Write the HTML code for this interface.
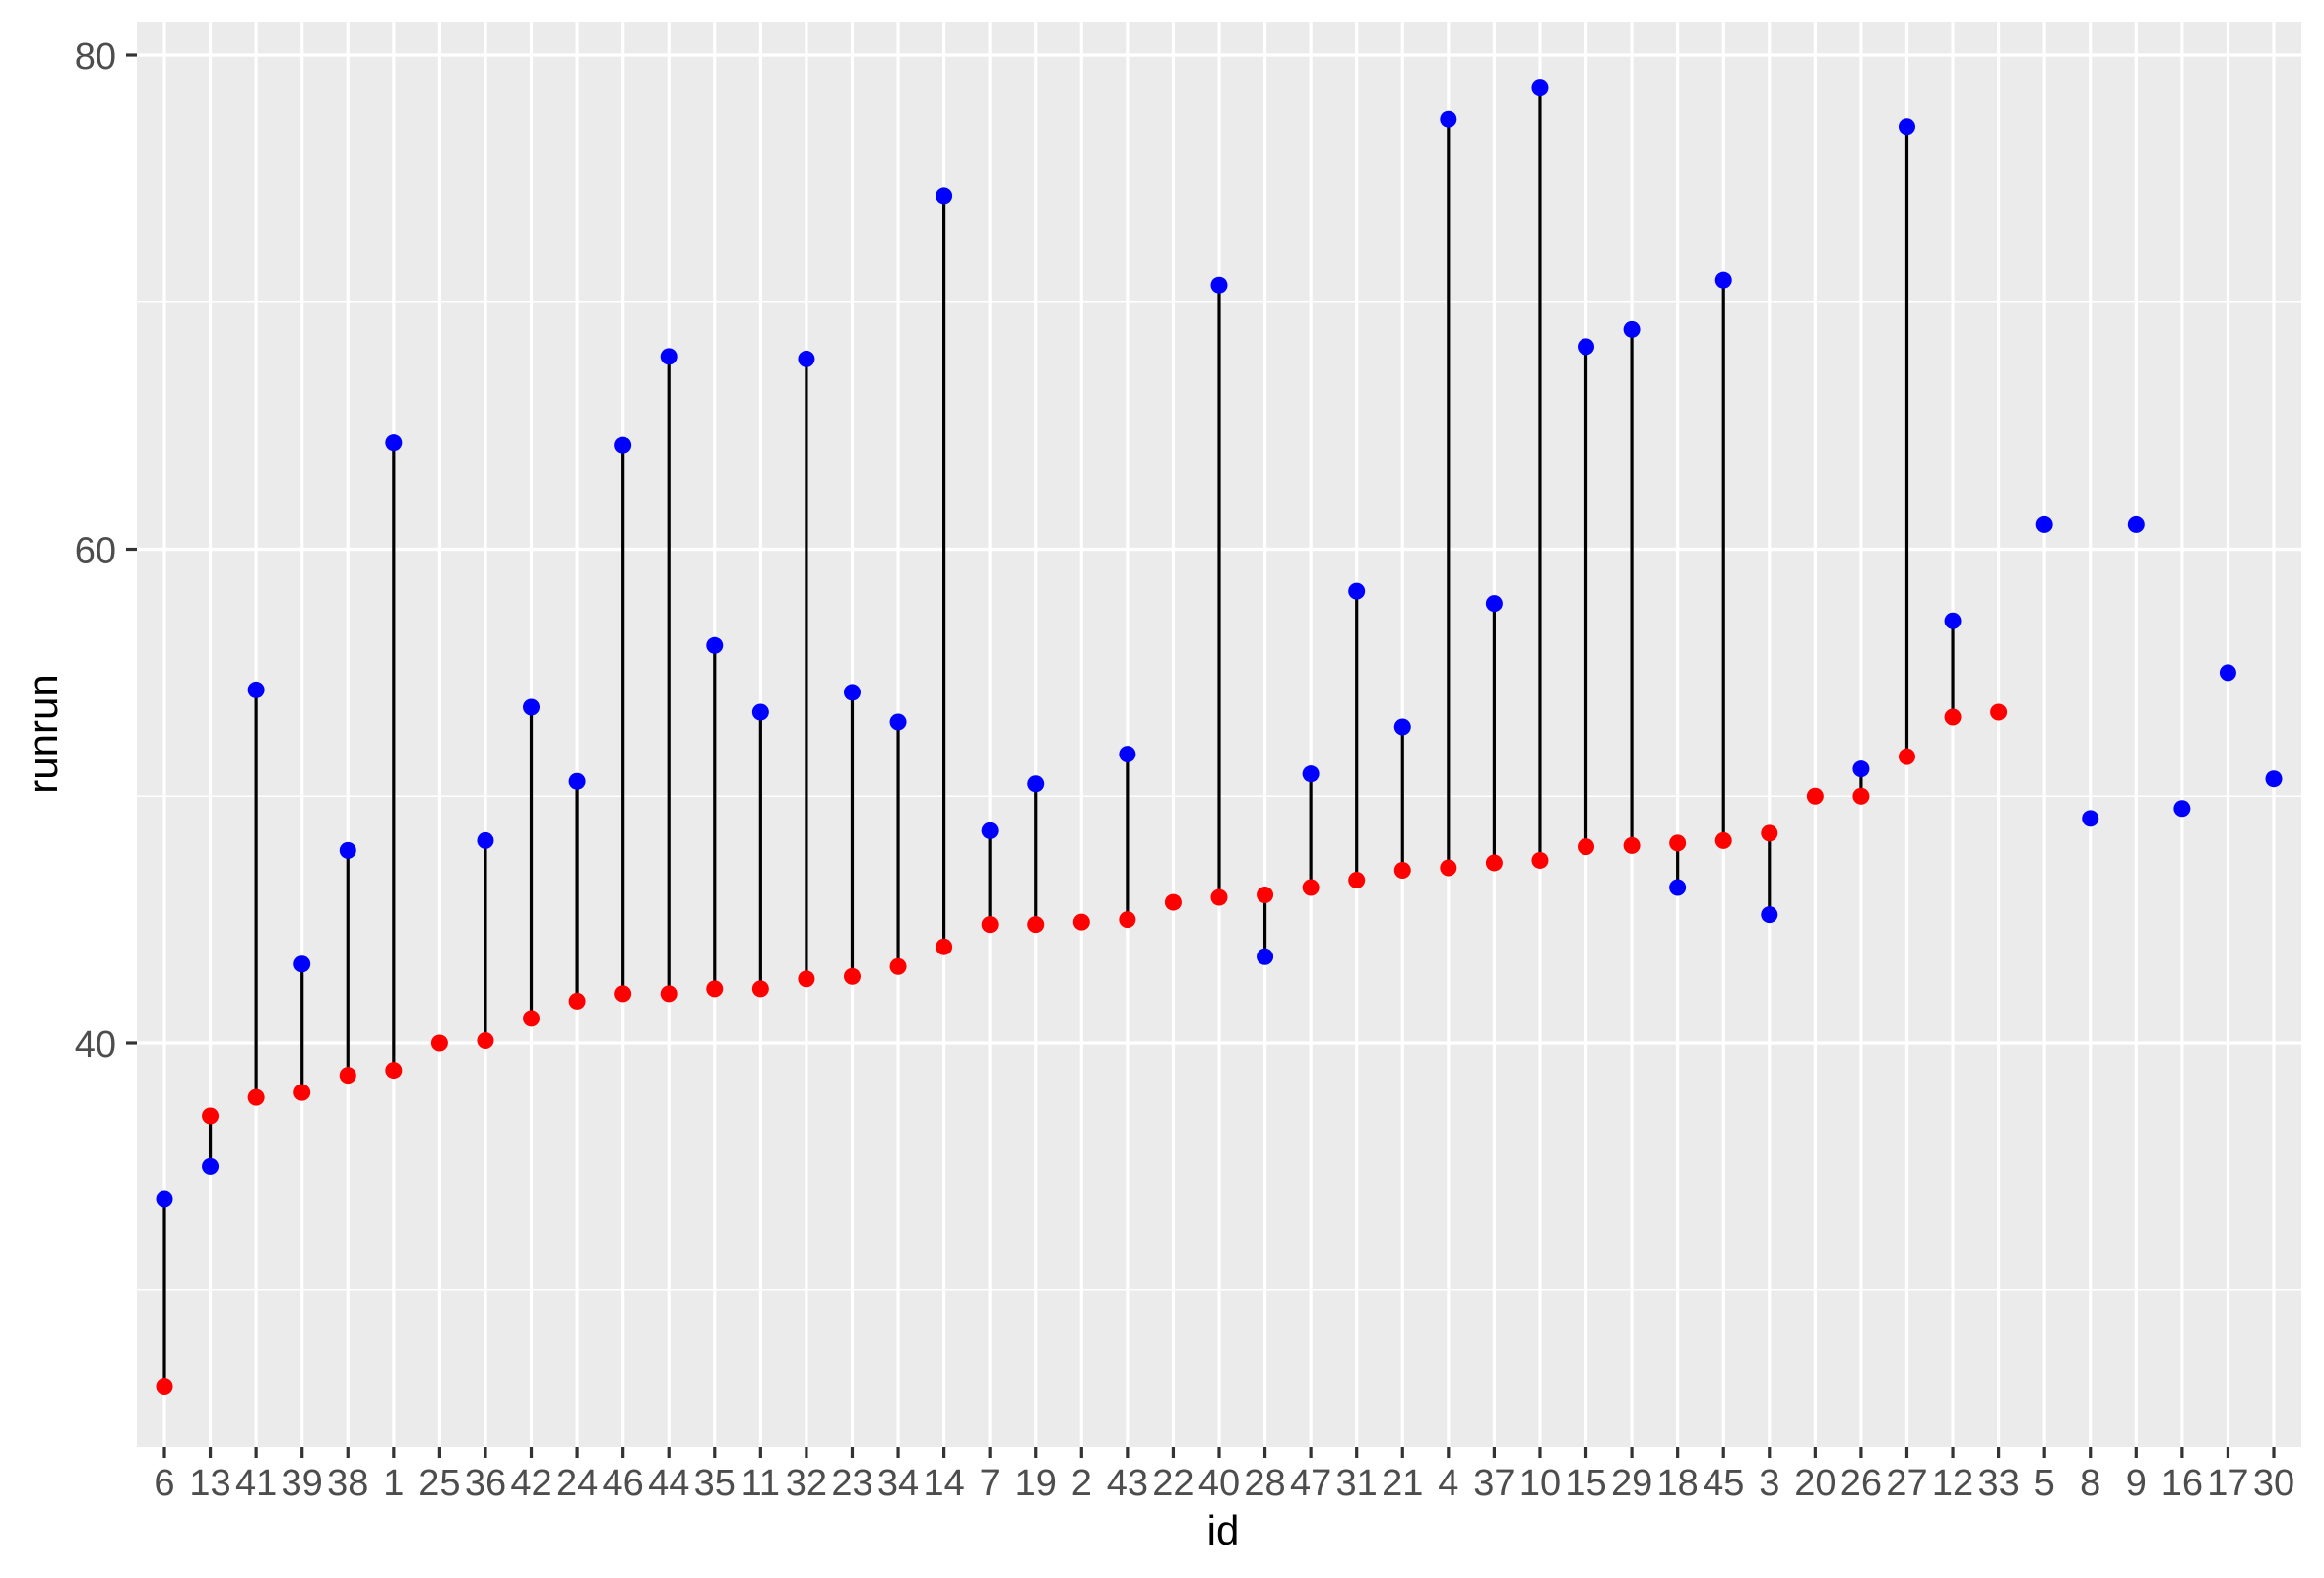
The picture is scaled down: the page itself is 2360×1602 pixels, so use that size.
<!DOCTYPE html>
<html><head><meta charset="utf-8"><style>
html,body{margin:0;padding:0;background:#fff;}
svg{display:block;font-family:"Liberation Sans",Arial,sans-serif;}
</style></head><body>
<svg id="chart" width="2360" height="1602" viewBox="0 0 2360 1602" xmlns="http://www.w3.org/2000/svg">
<rect x="0" y="0" width="2360" height="1602" fill="#fff"/>
<g id="grid"></g>
<g id="marks"></g>
<g id="axes"></g>
<text x="1242" y="1568" font-size="42" text-anchor="middle" fill="#000">id</text>
<text x="0" y="0" font-size="42" text-anchor="middle" fill="#000" transform="translate(58,745) rotate(-90)">runrun</text>
</svg>
<script>
const categories = ["6","13","41","39","38","1","25","36","42","24","46","44","35","11","32","23","34","14","7","19","2","43","22","40","28","47","31","21","4","37","10","15","29","18","45","3","20","26","27","12","33","5","8","9","16","17","30"];
const redValues = [26.1,37.05,37.8,38.0,38.7,38.9,40.0,40.1,41.0,41.7,42.0,42.0,42.2,42.2,42.6,42.7,43.1,43.9,44.8,44.8,44.9,45.0,45.7,45.9,46.0,46.3,46.6,47.0,47.1,47.3,47.4,47.95,48.0,48.1,48.2,48.5,50.0,50.0,51.6,53.2,53.4,null,null,null,null,null,null];
const blueValues = [33.7,35.0,54.3,43.2,47.8,64.3,null,48.2,53.6,50.6,64.2,67.8,56.1,53.4,67.7,54.2,53.0,74.3,48.6,50.5,null,51.7,null,70.7,43.5,50.9,58.3,52.8,77.4,57.8,78.7,68.2,68.9,46.3,70.9,45.2,null,51.1,77.1,57.1,null,61.0,49.1,61.0,49.5,55.0,50.7];
const majorTicks = [40,60,80];
const minorTicks = [30,50,70];

const NS="http://www.w3.org/2000/svg";
const panel={left:139,right:2337,top:22,bottom:1469};
const x0=167, x1=2309;
function xScale(i){return x0+(x1-x0)*i/(categories.length-1);}
function yScale(v){return 1059-(v-40)*(1059-56)/40;}
function mk(tag,attrs,parent){const e=document.createElementNS(NS,tag);for(const k in attrs)e.setAttribute(k,attrs[k]);parent.appendChild(e);return e;}
const grid=document.getElementById('grid'),marks=document.getElementById('marks'),axes=document.getElementById('axes');
const bg=mk('rect',{x:panel.left,y:panel.top,width:panel.right-panel.left,height:panel.bottom-panel.top,fill:'#EBEBEB'},grid);


minorTicks.forEach(v=>{const l=mk('line',{x1:panel.left,x2:panel.right,y1:yScale(v),y2:yScale(v),stroke:'#fff','stroke-width':1.6},grid);

});
majorTicks.forEach(v=>{const l=mk('line',{x1:panel.left,x2:panel.right,y1:yScale(v),y2:yScale(v),stroke:'#fff','stroke-width':3.2},grid);


const t=mk('line',{x1:128,x2:139,y1:yScale(v),y2:yScale(v),stroke:'#333','stroke-width':3.2},axes);


const tx=mk('text',{x:118,y:yScale(v)+14,'font-size':38,'text-anchor':'end',fill:'#4D4D4D'},axes);tx.textContent=v;

});
categories.forEach((c,i)=>{const x=xScale(i);
const g=mk('line',{x1:x,x2:x,y1:panel.top,y2:panel.bottom,stroke:'#fff','stroke-width':3.2},grid);


const t=mk('line',{x1:x,x2:x,y1:panel.bottom,y2:panel.bottom+11,stroke:'#333','stroke-width':3.2},axes);


const tx=mk('text',{x:x,y:1518,'font-size':38,'text-anchor':'middle',fill:'#4D4D4D'},axes);tx.textContent=c;

});
categories.forEach((c,i)=>{const x=xScale(i),r=redValues[i],b=blueValues[i];
if(r!=null&&b!=null){const l=mk('line',{x1:x,x2:x,y1:yScale(r),y2:yScale(b),stroke:'#000','stroke-width':3.2},marks);

}});
categories.forEach((c,i)=>{const x=xScale(i),r=redValues[i],b=blueValues[i];
if(r!=null){const p=mk('circle',{cx:x,cy:yScale(r),r:8.5,fill:'#FF0000'},marks);

}
if(b!=null){const p=mk('circle',{cx:x,cy:yScale(b),r:8.5,fill:'#0000FF'},marks);

}});
</script>
</body></html>
